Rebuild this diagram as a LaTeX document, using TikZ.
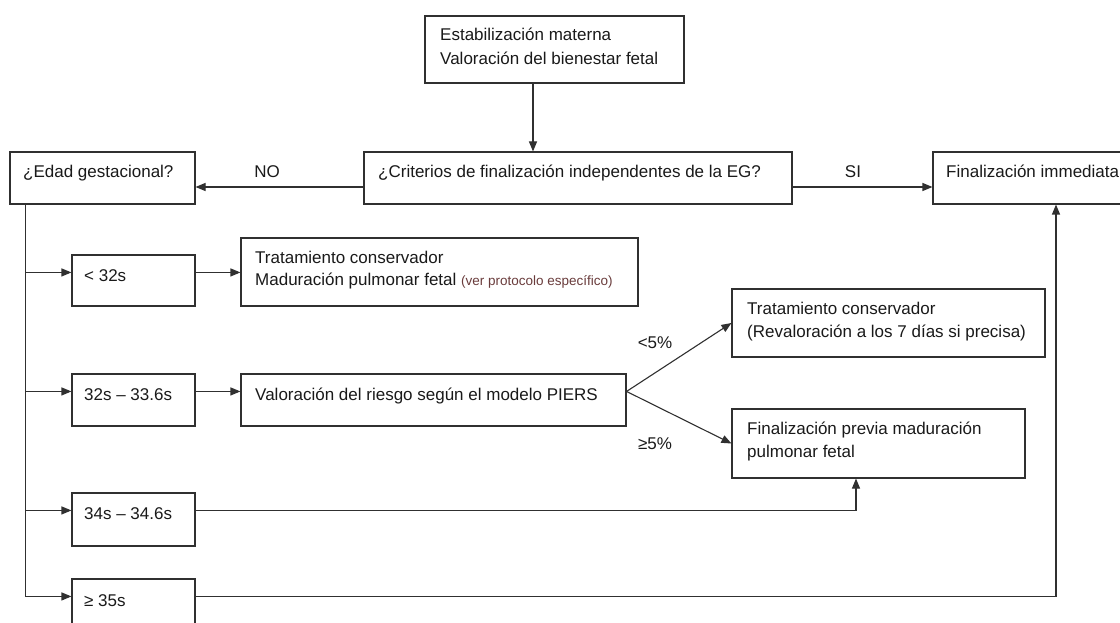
\documentclass[tikz,border=0pt]{standalone}
\usepackage{fontspec}
\setmainfont{Liberation Sans}
\usetikzlibrary{arrows.meta,calc}
\definecolor{lncol}{HTML}{303030}
\definecolor{txcol}{HTML}{1A1A1A}
\definecolor{notecol}{HTML}{6A3C3C}
\newcommand{\mlines}[2]{\parbox[t]{400pt}{\raggedright\setlength\baselineskip{#1}#2}}
\begin{document}
\begin{tikzpicture}[x=1pt,y=-1pt,
  box/.style={draw=lncol,line width=1.1pt,rectangle,inner sep=0pt,fill=white},
  conn/.style={draw=lncol,line width=1.1pt},
  arr/.style={conn,-{Triangle[length=10pt,width=8pt]}},
  txt/.style={anchor=base west,inner sep=0pt,text=txcol,font=\fontsize{17}{23}\selectfont},
  lab/.style={anchor=base,inner sep=0pt,text=txcol,font=\fontsize{17}{23}\selectfont}]
\useasboundingbox[fill=white] (0,0) rectangle (1120,623);

% boxes
\node[box,minimum width=259pt,minimum height=67pt] (top) at (554.5,49.5) {};
\node[box,minimum width=185pt,minimum height=52pt] (edad) at (102.5,178) {};
\node[box,minimum width=428pt,minimum height=52pt] (crit) at (578,178) {};
\node[box,minimum width=202pt,minimum height=52pt] (fin) at (1034,178) {};
\node[box,minimum width=123pt,minimum height=51pt] (lt32) at (133.5,280.5) {};
\node[box,minimum width=397pt,minimum height=68pt] (trat1) at (439.5,272) {};
\node[box,minimum width=123pt,minimum height=52pt] (r32) at (133.5,400) {};
\node[box,minimum width=385pt,minimum height=52pt] (piers) at (433.5,400) {};
\node[box,minimum width=313pt,minimum height=68pt] (trat2) at (888.5,323) {};
\node[box,minimum width=293pt,minimum height=69pt] (finprev) at (878.5,443.5) {};
\node[box,minimum width=123pt,minimum height=53pt] (r34) at (133.5,519.5) {};
\node[box,minimum width=123pt,minimum height=66pt] (r35) at (133.5,612) {};

% texts
\node[txt] (ttop) at (440,41) {\mlines{24pt}{Estabilización materna\\Valoración del bienestar fetal}};
\node[txt] (tedad) at (23,178) {¿Edad gestacional?};
\node[txt] (tcrit) at (378,178) {¿Criterios de finalización independentes de la EG?};
\node[txt] (tfin) at (946,178) {Finalización immediata};
\node[txt] (tlt32) at (84,281) {< 32s};
\node[txt] (ttrat1) at (255,263) {\mlines{22pt}{Tratamiento conservador\\Maduración pulmonar fetal {\fontsize{13.5}{15}\selectfont\color{notecol}(ver protocolo específico)}}};
\node[txt] (tr32) at (84,400) {32s – 33.6s};
\node[txt] (tpiers) at (255,400) {Valoración del riesgo según el modelo PIERS};
\node[txt] (ttrat2) at (747,314) {\mlines{23pt}{Tratamiento conservador\\(Revaloración a los 7 días si precisa)}};
\node[txt] (tfinprev) at (747,434) {\mlines{23pt}{Finalización previa maduración\\pulmonar fetal}};
\node[txt] (tr34) at (84,519) {34s – 34.6s};
\node[txt] (tr35) at (84,606) {≥ 35s};

% labels
\node[lab] (no) at (267,178) {NO};
\node[lab] (si) at (853,178) {SI};
\node[lab] (lt5) at (655,348) {<5\%};
\node[lab] (ge5) at (655,449) {≥5\%};

% connectors
\coordinate (ta) at ([xshift=-21.5pt]top.south);
\draw[arr] (ta) -- (ta |- crit.north);
\draw[arr] ([yshift=-9pt]crit.west) -- ([yshift=-9pt]edad.east);
\draw[arr] ([yshift=-9pt]crit.east) -- ([yshift=-9pt]fin.west);

\coordinate (vt) at ([xshift=16pt]edad.south west);
\coordinate (a1) at ([yshift=-18pt]lt32.north west);
\coordinate (a2) at ([yshift=-18pt]r32.north west);
\coordinate (a3) at ([yshift=-18pt]r34.north west);
\coordinate (a4) at ([yshift=-18pt]r35.north west);
\draw[conn] (vt) -- (vt |- a4);
\draw[arr] (vt |- a1) -- (a1);
\draw[arr] (vt |- a2) -- (a2);
\draw[arr] (vt |- a3) -- (a3);
\draw[arr] (vt |- a4) -- (a4);

\coordinate (b1) at ([yshift=-18pt]lt32.north east);
\draw[arr] (b1) -- (b1 -| trat1.west);
\coordinate (b2) at ([yshift=-18pt]r32.north east);
\draw[arr] (b2) -- (b2 -| piers.west);
\coordinate (p) at ([yshift=-18pt]piers.north east);
\draw[arr] (p) -- (trat2.west);
\draw[arr] (p) -- (finprev.west);
\coordinate (b3) at ([yshift=-18pt]r34.north east);
\coordinate (c3) at ([xshift=-22.5pt]finprev.south);
\draw[arr] (b3) -| (c3);
\coordinate (b4) at ([yshift=-18pt]r35.north east);
\coordinate (c4) at ([xshift=22pt]fin.south);
\draw[arr] (b4) -| (c4);
\end{tikzpicture}
\end{document}
